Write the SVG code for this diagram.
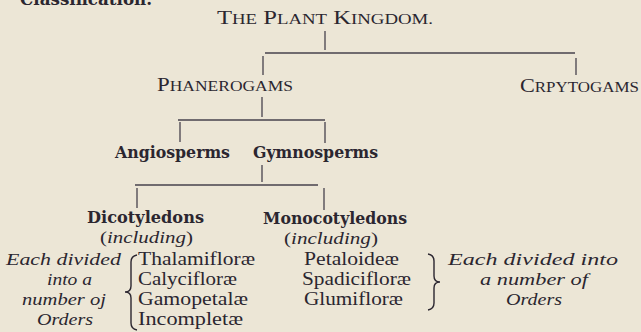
<svg xmlns="http://www.w3.org/2000/svg" width="641" height="332" viewBox="0 0 641 332">
<style>
.sc{font-family:"Liberation Serif","Times New Roman",serif;font-size:19px;fill:#2b2630}
.sc tspan.s{font-size:14.5px}
.bd{font-family:"DejaVu Serif","Liberation Serif",serif;font-weight:bold;font-size:16px;fill:#2b2630}
.rm{font-family:"Liberation Serif","Times New Roman",serif;font-size:18px;fill:#2b2630}
.it{font-family:"Liberation Serif","Times New Roman",serif;font-style:italic;font-size:17.5px;fill:#2b2630}
.ln{stroke:#47424c;stroke-width:1.3;fill:none}
.br{stroke:#2b2630;stroke-width:1.4;fill:none}
</style>
<rect width="641" height="332" fill="#ece6d6"/>
<text class="bd" x="20" y="5" textLength="132" lengthAdjust="spacingAndGlyphs">Classification.</text>
<g id="connectors">
<line class="ln" x1="325" y1="31" x2="325" y2="50"/>
<line class="ln" x1="265" y1="53" x2="575" y2="53"/>
<line class="ln" x1="263" y1="56" x2="263" y2="75"/>
<line class="ln" x1="576" y1="58" x2="576" y2="75"/>
<line class="ln" x1="262" y1="97" x2="262" y2="117"/>
<line class="ln" x1="178" y1="120" x2="325" y2="120"/>
<line class="ln" x1="180" y1="122" x2="180" y2="142"/>
<line class="ln" x1="325" y1="122" x2="325" y2="143"/>
<line class="ln" x1="262" y1="165" x2="262" y2="182"/>
<line class="ln" x1="135" y1="185" x2="318" y2="185"/>
<line class="ln" x1="137" y1="188" x2="137" y2="208"/>
<line class="ln" x1="324" y1="188" x2="324" y2="210"/>
</g>
<g id="plant-kingdom">
<text class="sc" x="217" y="24" textLength="216" lengthAdjust="spacingAndGlyphs">T<tspan class="s">HE</tspan> P<tspan class="s">LANT</tspan> K<tspan class="s">INGDOM.</tspan></text>
</g>
<g id="phanerogams">
<text class="sc" x="157" y="91" textLength="136" lengthAdjust="spacingAndGlyphs">P<tspan class="s">HANEROGAMS</tspan></text>
</g>
<g id="crpytogams">
<text class="sc" x="520" y="92" textLength="119" lengthAdjust="spacingAndGlyphs">C<tspan class="s">RPYTOGAMS</tspan></text>
</g>
<g id="angiosperms">
<text class="bd" x="115" y="158" font-size="17" textLength="115" lengthAdjust="spacingAndGlyphs">Angiosperms</text>
</g>
<g id="gymnosperms">
<text class="bd" x="253" y="158" font-size="17" textLength="125" lengthAdjust="spacingAndGlyphs">Gymnosperms</text>
</g>
<g id="dicotyledons">
<text class="bd" x="87" y="223" textLength="117" lengthAdjust="spacingAndGlyphs">Dicotyledons</text>
<text class="it" x="100" y="243" textLength="93" lengthAdjust="spacingAndGlyphs"><tspan font-style="normal">(</tspan>including<tspan font-style="normal">)</tspan></text>
<text class="it" x="6" y="265" textLength="115" lengthAdjust="spacingAndGlyphs">Each divided</text>
<text class="it" x="47" y="285" textLength="45" lengthAdjust="spacingAndGlyphs">into a</text>
<text class="it" x="22" y="305" textLength="84" lengthAdjust="spacingAndGlyphs">number oj</text>
<text class="it" x="37" y="325" textLength="56" lengthAdjust="spacingAndGlyphs">Orders</text>
<path class="br" d="M137 255 Q131 256 131 262 L131 286 Q131 292 125 292 Q131 292 131 298 L131 323 Q131 329 137 330"/>
<text class="rm" x="138" y="265" textLength="117" lengthAdjust="spacingAndGlyphs">Thalamifloræ</text>
<text class="rm" x="138" y="285" textLength="99" lengthAdjust="spacingAndGlyphs">Calycifloræ</text>
<text class="rm" x="138" y="305" textLength="110" lengthAdjust="spacingAndGlyphs">Gamopetalæ</text>
<text class="rm" x="138" y="325" textLength="105" lengthAdjust="spacingAndGlyphs">Incompletæ</text>
</g>
<g id="monocotyledons">
<text class="bd" x="263" y="224" textLength="144" lengthAdjust="spacingAndGlyphs">Monocotyledons</text>
<text class="it" x="284" y="244" textLength="94" lengthAdjust="spacingAndGlyphs"><tspan font-style="normal">(</tspan>including<tspan font-style="normal">)</tspan></text>
<text class="rm" x="304" y="265" textLength="95" lengthAdjust="spacingAndGlyphs">Petaloideæ</text>
<text class="rm" x="302" y="285" textLength="109" lengthAdjust="spacingAndGlyphs">Spadicifloræ</text>
<text class="rm" x="304" y="305" textLength="99" lengthAdjust="spacingAndGlyphs">Glumifloræ</text>
<path class="br" d="M428 254 Q434 255 434 261 L434 276 Q434 282 440 282 Q434 282 434 288 L434 303 Q434 309 428 310"/>
<text class="it" x="448" y="265" textLength="170" lengthAdjust="spacingAndGlyphs">Each divided into</text>
<text class="it" x="480" y="285" textLength="108" lengthAdjust="spacingAndGlyphs">a number of</text>
<text class="it" x="506" y="305" textLength="56" lengthAdjust="spacingAndGlyphs">Orders</text>
</g>
</svg>
